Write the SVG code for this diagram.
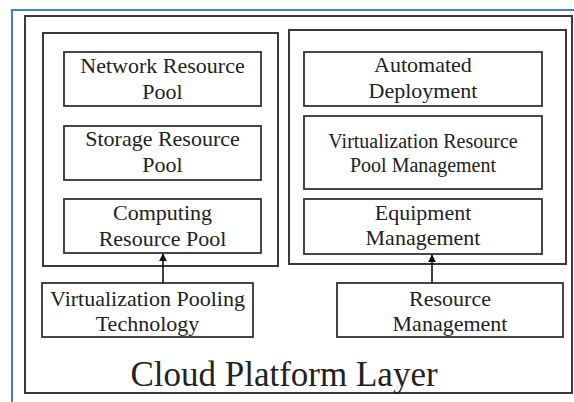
<svg xmlns="http://www.w3.org/2000/svg" width="574" height="402" viewBox="0 0 574 402">
<style>
.frame{fill:none;stroke:#3a3a3a;stroke-width:2}
.box{fill:#fff;stroke:#333;stroke-width:1.8}
.t{font-family:'Liberation Serif','Tinos','Times New Roman','DejaVu Serif',serif;font-size:22px;fill:#222;text-anchor:middle}
.s{font-size:20px}
.big{font-size:35px}
.conn{stroke:#111;stroke-width:1.6;fill:none}
</style>
<defs>
<marker id="ah" viewBox="0 0 10 10" refX="9" refY="5" markerWidth="8" markerHeight="8" markerUnits="userSpaceOnUse" orient="auto">
<path d="M0,0 L10,5 L0,10 z" fill="#111"/>
</marker>
</defs>
<rect x="0" y="0" width="574" height="402" fill="#fff"/>
<rect x="12" y="10" width="580" height="410" fill="none" stroke="#4a7cc4" stroke-width="2"/>
<rect class="frame" x="25" y="16" width="547" height="377"/>
<g id="resource-pools">
<rect class="frame" x="43" y="33" width="235" height="233"/>
</g>
<g id="management">
<rect class="frame" x="289" y="30" width="277" height="234"/>
</g>
<g id="network-resource-pool">
<rect class="box" x="64" y="52" width="197" height="54"/>
<text class="t" x="162.5" y="73" font-family="Liberation Serif, serif">Network Resource</text>
<text class="t" x="162.5" y="99" font-family="Liberation Serif, serif">Pool</text>
</g>
<g id="storage-resource-pool">
<rect class="box" x="64" y="126" width="197" height="54"/>
<text class="t" x="162.5" y="146">Storage Resource</text>
<text class="t" x="162.5" y="172">Pool</text>
</g>
<g id="computing-resource-pool">
<rect class="box" x="64" y="199" width="197" height="54"/>
<text class="t" x="162.5" y="220">Computing</text>
<text class="t" x="162.5" y="246">Resource Pool</text>
</g>
<g id="automated-deployment">
<rect class="box" x="304" y="52" width="238" height="54"/>
<text class="t" x="423" y="72">Automated</text>
<text class="t" x="423" y="98">Deployment</text>
</g>
<g id="virtualization-resource-pool-management">
<rect class="box" x="304" y="116" width="238" height="73"/>
<text class="t s" x="423" y="148">Virtualization Resource</text>
<text class="t s" x="423" y="172">Pool Management</text>
</g>
<g id="equipment-management">
<rect class="box" x="304" y="199" width="238" height="55"/>
<text class="t" x="423" y="220">Equipment</text>
<text class="t" x="423" y="245">Management</text>
</g>
<g id="virtualization-pooling-technology">
<rect class="box" x="42" y="283" width="211" height="54"/>
<text class="t" x="147.5" y="306">Virtualization Pooling</text>
<text class="t" x="147.5" y="331">Technology</text>
</g>
<g id="resource-management">
<rect class="box" x="337" y="283" width="226" height="54"/>
<text class="t" x="450" y="306">Resource</text>
<text class="t" x="450" y="331">Management</text>
</g>
<g id="connectors">
<line class="conn" x1="163" y1="283" x2="163" y2="254" marker-end="url(#ah)"/>
<line class="conn" x1="432" y1="283" x2="432" y2="255" marker-end="url(#ah)"/>
</g>
<text class="t big" x="284" y="386">Cloud Platform Layer</text>
</svg>
